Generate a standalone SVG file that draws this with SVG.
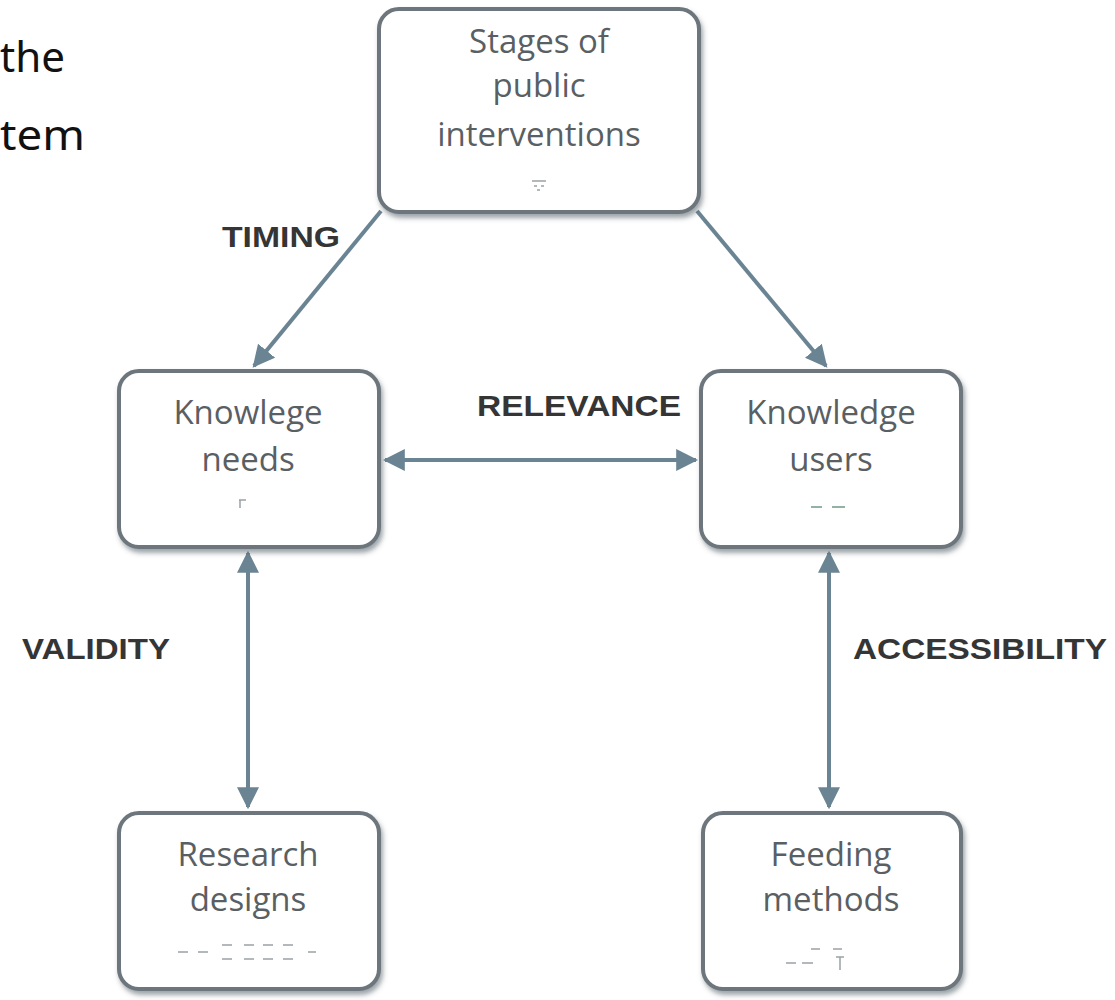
<svg xmlns="http://www.w3.org/2000/svg" width="1115" height="1000" viewBox="0 0 1115 1000">
  <defs>
    <filter id="sh" x="-10%" y="-10%" width="125%" height="130%">
      <feDropShadow dx="2" dy="4" stdDeviation="2.5" flood-color="#4d5a62" flood-opacity="0.55"/>
    </filter>
    <marker id="ah" viewBox="0 0 10 10" refX="9" refY="5" markerWidth="5.5" markerHeight="5.5" orient="auto-start-reverse" markerUnits="strokeWidth">
      <path d="M0,0 L10,5 L0,10 Z" fill="#6b8493"/>
    </marker>
    <style>
      .box { fill: #ffffff; stroke: #6c767c; stroke-width: 4; filter: url(#sh); }
      .nt { font-family: "Open Sans", "Noto Sans", sans-serif; font-size: 33px; fill: #5a5f64; text-anchor: middle; }
      .lbl { font-family: "Liberation Sans", Arial, sans-serif; font-weight: bold; font-size: 30px; fill: #353535; }
      .conn { stroke: #6b8493; stroke-width: 4; fill: none; marker-end: url(#ah); }
      .both { marker-start: url(#ah); }
      .ic { stroke: #9aa0a4; stroke-width: 1.5; }
      .side { font-family: "Noto Sans", "Open Sans", sans-serif; font-size: 42px; fill: #111; }
    </style>
  </defs>

  <g id="side-text">
    <text class="side" x="0" y="72" textLength="65" lengthAdjust="spacingAndGlyphs">the</text>
    <text class="side" x="0" y="150" textLength="85" lengthAdjust="spacingAndGlyphs">tem</text>
  </g>

  <g id="connectors">
    <line class="conn" x1="381" y1="211" x2="254" y2="366"/>
    <line class="conn" x1="697" y1="211" x2="826" y2="366"/>
    <line class="conn both" x1="385" y1="460" x2="696" y2="460"/>
    <line class="conn both" x1="248" y1="553" x2="248" y2="807"/>
    <line class="conn both" x1="829" y1="553" x2="829" y2="807"/>
  </g>

  <g id="labels">
    <text class="lbl" x="222" y="247" textLength="118" lengthAdjust="spacingAndGlyphs">TIMING</text>
    <text class="lbl" x="477" y="416" textLength="204" lengthAdjust="spacingAndGlyphs">RELEVANCE</text>
    <text class="lbl" x="22" y="659" textLength="148" lengthAdjust="spacingAndGlyphs">VALIDITY</text>
    <text class="lbl" x="853" y="659" textLength="254" lengthAdjust="spacingAndGlyphs">ACCESSIBILITY</text>
  </g>

  <g id="stages">
    <rect class="box" x="379" y="9" width="320" height="203" rx="20"/>
    <text class="nt" x="539" y="53">Stages of</text>
    <text class="nt" x="539" y="97">public</text>
    <text class="nt" x="539" y="146">interventions</text>
    <g class="ic">
      <line x1="532" y1="181" x2="546" y2="181"/>
      <line x1="534" y1="186" x2="537" y2="186"/>
      <line x1="541" y1="186" x2="544" y2="186"/>
      <line x1="537" y1="190" x2="540" y2="190"/>
    </g>
  </g>

  <g id="needs">
    <rect class="box" x="119" y="371" width="260" height="176" rx="20"/>
    <text class="nt" x="248" y="424">Knowlege</text>
    <text class="nt" x="248" y="471">needs</text>
    <g class="ic">
      <line x1="239" y1="500" x2="246" y2="500"/>
      <line x1="240" y1="500" x2="240" y2="508"/>
    </g>
  </g>

  <g id="users">
    <rect class="box" x="701" y="371" width="260" height="176" rx="20"/>
    <text class="nt" x="831" y="424">Knowledge</text>
    <text class="nt" x="831" y="471">users</text>
    <g class="ic" style="stroke:#6c9a86">
      <line x1="811" y1="507" x2="822" y2="507"/>
      <line x1="832" y1="507" x2="845" y2="507"/>
    </g>
  </g>

  <g id="research">
    <rect class="box" x="119" y="813" width="260" height="176" rx="20"/>
    <text class="nt" x="248" y="866">Research</text>
    <text class="nt" x="248" y="911">designs</text>
    <g class="ic">
      <line x1="178" y1="952" x2="188" y2="952"/>
      <line x1="198" y1="952" x2="208" y2="952"/>
      <line x1="222" y1="945" x2="232" y2="945"/>
      <line x1="222" y1="959" x2="232" y2="959"/>
      <line x1="244" y1="945" x2="254" y2="945"/>
      <line x1="244" y1="959" x2="254" y2="959"/>
      <line x1="263" y1="945" x2="273" y2="945"/>
      <line x1="263" y1="959" x2="273" y2="959"/>
      <line x1="283" y1="945" x2="293" y2="945"/>
      <line x1="283" y1="959" x2="293" y2="959"/>
      <line x1="308" y1="952" x2="316" y2="952"/>
    </g>
  </g>

  <g id="feeding">
    <rect class="box" x="703" y="813" width="258" height="176" rx="20"/>
    <text class="nt" x="831" y="866">Feeding</text>
    <text class="nt" x="831" y="911">methods</text>
    <g class="ic">
      <line x1="786" y1="963" x2="796" y2="963"/>
      <line x1="802" y1="963" x2="813" y2="963"/>
      <line x1="811" y1="949" x2="820" y2="949"/>
      <line x1="833" y1="949" x2="842" y2="949"/>
      <line x1="836" y1="957" x2="844" y2="957"/>
      <line x1="840" y1="957" x2="840" y2="970"/>
    </g>
  </g>
</svg>
